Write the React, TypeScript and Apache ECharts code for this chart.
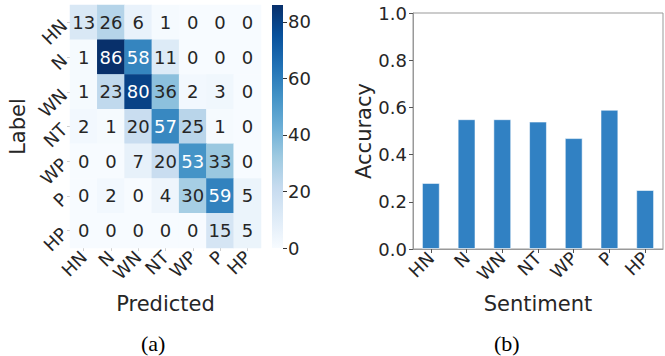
import React, { useEffect, useRef } from "react";
import * as echarts from "echarts";

const labels = ["HN", "N", "WN", "NT", "WP", "P", "HP"];
const matrix = [
  [13, 26, 6, 1, 0, 0, 0],
  [1, 86, 58, 11, 0, 0, 0],
  [1, 23, 80, 36, 2, 3, 0],
  [2, 1, 20, 57, 25, 1, 0],
  [0, 0, 7, 20, 53, 33, 0],
  [0, 2, 0, 4, 30, 59, 5],
  [0, 0, 0, 0, 0, 15, 5],
];
const accuracy = [0.28, 0.55, 0.55, 0.54, 0.47, 0.59, 0.25];
const colorbarTicks = [0, 20, 40, 60, 80];
const accuracyTicks = [0, 0.2, 0.4, 0.6, 0.8, 1.0];
const vmax = 86;

const blues = ["#f7fbff", "#deebf7", "#c6dbef", "#9ecae1", "#6baed6", "#4292c6", "#2171b5", "#08519c", "#08306b"];
const FONT = "'DejaVu Sans', sans-serif";
const TXT = "#262626";

export default function App() {
  const ref = useRef<HTMLDivElement>(null);
  useEffect(() => {
    document.body.style.margin = "0";
    const chart = echarts.init(ref.current!, null, { renderer: "svg" });
    const heatData: any[] = [];
    matrix.forEach((row, r) =>
      row.forEach((v, c) =>
        heatData.push({ value: [c, r, v], label: { color: v > 45 ? "#ffffff" : TXT } })
      )
    );
    const lbl = { fontSize: 18, color: TXT, fontFamily: FONT };
    const nameStyle = { fontSize: 21, color: TXT, fontFamily: FONT };
    const option: any = {
      animation: false,
      backgroundColor: "#ffffff",
      textStyle: { fontFamily: FONT },
      grid: [
        { left: 70, top: 5, width: 191, height: 243 },
        { left: 272, top: 5, width: 11, height: 243 },
        { left: 413, top: 13, width: 250, height: 236, show: true, borderColor: "#999", borderWidth: 1, backgroundColor: "transparent" },
      ],
      visualMap: {
        show: false,
        min: 0,
        max: vmax,
        seriesIndex: 0,
        inRange: { color: blues },
      },
      xAxis: [
        {
          gridIndex: 0,
          type: "category",
          data: labels,
          axisLine: { show: false },
          axisTick: { show: true, alignWithLabel: true, length: 3, lineStyle: { color: "#d0d0d0" } },
          axisLabel: { ...lbl, interval: 0, rotate: 45, margin: 6 },
          name: "Predicted",
          nameLocation: "middle",
          nameGap: 45,
          nameTextStyle: nameStyle,
        },
        { gridIndex: 1, type: "category", data: [""], show: false },
        {
          gridIndex: 2,
          type: "category",
          data: labels,
          axisLine: { show: true, lineStyle: { color: "#999" } },
          axisTick: { show: true, alignWithLabel: true, length: 4, lineStyle: { color: "#555" } },
          axisLabel: { ...lbl, interval: 0, rotate: 45, margin: 6 },
          name: "Sentiment",
          nameLocation: "middle",
          nameGap: 44,
          nameTextStyle: nameStyle,
        },
      ],
      yAxis: [
        {
          gridIndex: 0,
          type: "category",
          data: labels,
          inverse: true,
          axisLine: { show: false },
          axisTick: { show: true, alignWithLabel: true, length: 3, lineStyle: { color: "#d0d0d0" } },
          axisLabel: { ...lbl, interval: 0, rotate: 45, margin: 6 },
          name: "Label",
          nameLocation: "middle",
          nameGap: 42,
          nameTextStyle: nameStyle,
        },
        {
          gridIndex: 1,
          type: "value",
          min: 0,
          max: vmax,
          position: "right",
          axisLine: { show: false },
          splitLine: { show: false },
          axisTick: { show: true, length: 4, customValues: colorbarTicks, lineStyle: { color: "#333" } },
          axisLabel: { ...lbl, margin: 5, customValues: colorbarTicks },
        },
        {
          gridIndex: 2,
          type: "value",
          min: 0,
          max: 1,
          interval: 0.2,
          axisLine: { show: true, lineStyle: { color: "#999" } },
          splitLine: { show: false },
          axisTick: { show: true, length: 4, lineStyle: { color: "#555" } },
          axisLabel: {
            ...lbl,
            margin: 6,
            customValues: accuracyTicks,
            formatter: (v: number) => v.toFixed(1),
          },
          name: "Accuracy",
          nameLocation: "middle",
          nameGap: 38,
          nameTextStyle: nameStyle,
        },
      ],
      series: [
        {
          type: "heatmap",
          xAxisIndex: 0,
          yAxisIndex: 0,
          data: heatData,
          label: { show: true, fontSize: 18, fontFamily: FONT },
          itemStyle: { borderWidth: 0 },
        },
        {
          type: "bar",
          xAxisIndex: 1,
          yAxisIndex: 1,
          data: [vmax],
          barWidth: "100%",
          itemStyle: {
            color: new echarts.graphic.LinearGradient(
              0, 1, 0, 0,
              blues.map((c, i) => ({ offset: i / (blues.length - 1), color: c }))
            ),
          },
        },
        {
          type: "bar",
          xAxisIndex: 2,
          yAxisIndex: 2,
          data: accuracy,
          barWidth: "50%",
          itemStyle: { color: "#3181c3", borderColor: "rgba(255,255,255,0.55)", borderWidth: 1 },
        },
      ],
      graphic: [
        { type: "text", left: 141, top: 332, style: { text: "(a)", fontSize: 22, fontFamily: "'Liberation Serif', serif", fill: "#000" } },
        { type: "text", left: 494, top: 332, style: { text: "(b)", fontSize: 22, fontFamily: "'Liberation Serif', serif", fill: "#000" } },
      ],
    };
    chart.setOption(option);
    return () => chart.dispose();
  }, []);
  return <div ref={ref} style={{ width: 665, height: 356 }} />;
}
